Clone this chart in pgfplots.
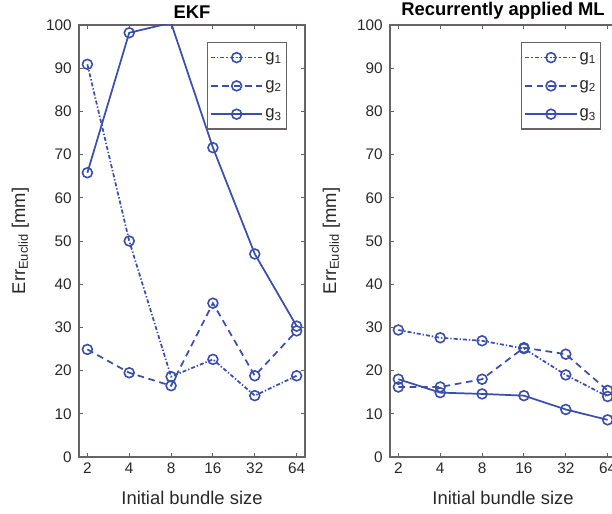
\documentclass[border=0pt]{standalone}
\usepackage{pgfplots}
\pgfplotsset{compat=1.18}
\usepackage{fontspec}
\setmainfont{Liberation Sans}

\definecolor{lineblue}{RGB}{58,78,172}
\definecolor{axgray}{RGB}{105,100,100}
\definecolor{txtgray}{RGB}{40,40,40}

\pgfplotsset{
  errstyle/.style={
    scale only axis,
    width=169.5pt, height=324pt,
    xmin=0.8, xmax=6.2, ymin=0, ymax=100,
    xtick={1,2,3,4,5,6},
    xticklabels={2,4,8,16,32,64},
    ytick={0,10,...,100},
    tick pos=both, tick align=inside,
    major tick length=3pt,
    axis line style={axgray, line width=1.1pt},
    every tick/.style={axgray, line width=0.7pt},
    /pgf/number format/assume math mode=true,
    tick label style={font=\fontsize{11.5}{13}\selectfont, text=txtgray},
    yticklabel style={xshift=-2pt},
    xticklabel style={yshift=-1pt},
    xlabel={Initial bundle size},
    ylabel={Err\textsubscript{Euclid} [mm]},
    label style={font=\fontsize{13.8}{16}\selectfont, text=txtgray},
    xlabel style={yshift=-6pt},
    ylabel style={yshift=6pt},
    title style={font=\fontsize{13.8}{16}\selectfont\bfseries, text=black, yshift=-5pt},
    legend style={at={(0.92,0.96)}, anchor=north east, draw=axgray, line width=0.8pt,
      font=\fontsize{12.5}{14}\selectfont, text=txtgray, row sep=9pt,
      inner xsep=2pt, inner ysep=5pt,
      nodes={inner xsep=1.5pt}},
    legend cell align=left,
    legend image code/.code={
      \draw[mark repeat=2, mark phase=2, #1] plot coordinates {(0cm,0cm) (0.68cm,0cm) (1.36cm,0cm)};
    },
    every axis plot/.append style={lineblue, line width=1.3pt, mark=o,
      mark size=3.7pt, mark options={solid, line width=1.2pt}},
  },
  gone/.style={dash pattern=on 3pt off 1.5pt on 1pt off 1.5pt},
  gtwo/.style={dash pattern=on 5pt off 3.5pt},
}

\begin{document}
\begin{tikzpicture}
\useasboundingbox (0,0) rectangle (459pt,385.5pt);
\clip (0,0) rectangle (459pt,385.5pt);

% EKF
\begin{axis}[errstyle, at={(59.25pt,42.75pt)}, anchor=south west, title={EKF}]
\addplot[gone] coordinates {(1,90.9) (2,50.0) (3,18.6) (4,22.6) (5,14.2) (6,18.8)};
\addplot[gtwo] coordinates {(1,24.9) (2,19.5) (3,16.5) (4,35.6) (5,18.8) (6,29.2)};
\addplot[solid] coordinates {(1,65.8) (2,98.2) (3,100.5) (4,71.6) (5,47.0) (6,30.3)};
\legend{g\textsubscript{1}, g\textsubscript{2}, g\textsubscript{3}}
\end{axis}

% Recurrently applied ML
\begin{axis}[errstyle, at={(292.5pt,42.75pt)}, anchor=south west, title={Recurrently applied ML},
  legend style={at={(0.935,0.96)}}]
\addplot[gone] coordinates {(1,29.4) (2,27.6) (3,26.9) (4,25.1) (5,19.0) (6,14.0)};
\addplot[gtwo] coordinates {(1,16.2) (2,16.2) (3,18.0) (4,25.3) (5,23.8) (6,15.4)};
\addplot[solid] coordinates {(1,18.0) (2,14.9) (3,14.6) (4,14.2) (5,11.0) (6,8.6)};
\legend{g\textsubscript{1}, g\textsubscript{2}, g\textsubscript{3}}
\end{axis}
\end{tikzpicture}
\end{document}
